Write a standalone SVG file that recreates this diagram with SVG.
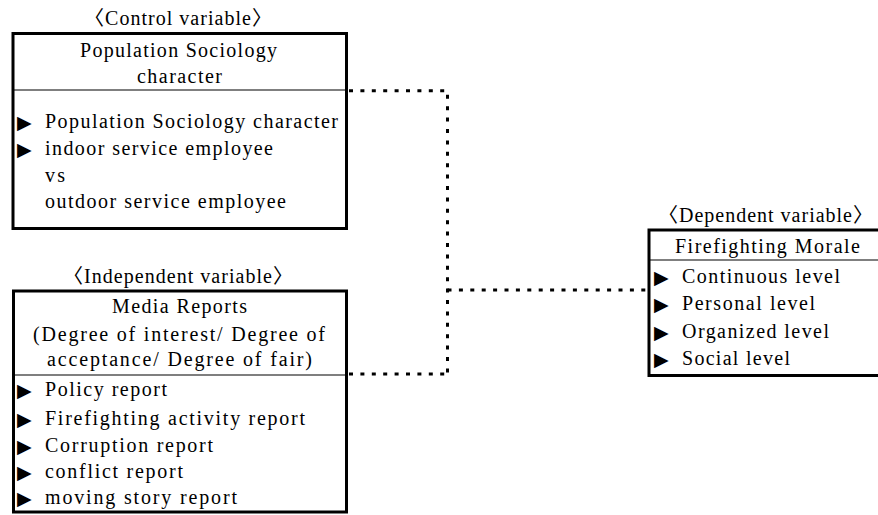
<svg xmlns="http://www.w3.org/2000/svg" width="878" height="515" viewBox="0 0 878 515">
<style>
.t{font-family:"Liberation Serif","Noto Sans CJK KR",serif;font-size:20px;fill:#000}
.b{font-family:"DejaVu Sans",sans-serif;font-size:19px;fill:#000}
.box{fill:#fff;stroke:#000;stroke-width:3}
.div{stroke:#000;stroke-width:1.2;fill:none}
.con{stroke:#000;stroke-width:3;fill:none;stroke-dasharray:4 7.4}
</style>
<rect width="878" height="515" fill="#fff"/>
<g id="connectors">
<path class="con" d="M349 90.7H447.5V374"/>
<path class="con" d="M349 374H447.5"/>
<path class="con" d="M447.5 290H646"/>
</g>
<g id="control">
<text class="t" x="84" y="25" textLength="188" lengthAdjust="spacing">〈Control variable〉</text>
<rect class="box" x="13" y="33.5" width="333.5" height="195"/>
<line class="div" x1="13" y1="90" x2="346.5" y2="90"/>
<text class="t" x="80" y="57" textLength="197" lengthAdjust="spacing">Population Sociology</text>
<text class="t" x="137" y="83" textLength="85" lengthAdjust="spacing">character</text>
<text class="b" x="17" y="129">▶</text>
<text class="t" x="45" y="128" textLength="293" lengthAdjust="spacing">Population Sociology character</text>
<text class="b" x="17" y="156">▶</text>
<text class="t" x="45" y="155" textLength="228" lengthAdjust="spacing">indoor service employee</text>
<text class="t" x="45" y="182" textLength="20" lengthAdjust="spacing">vs</text>
<text class="t" x="45" y="208" textLength="241" lengthAdjust="spacing">outdoor service employee</text>
</g>
<g id="independent">
<text class="t" x="63" y="283" textLength="230" lengthAdjust="spacing">〈Independent variable〉</text>
<rect class="box" x="13.5" y="291" width="333" height="221"/>
<line class="div" x1="13.5" y1="375" x2="346.5" y2="375"/>
<text class="t" x="112" y="313" textLength="135" lengthAdjust="spacing">Media Reports</text>
<text class="t" x="33" y="341" textLength="292" lengthAdjust="spacing">(Degree of interest/ Degree of</text>
<text class="t" x="47" y="366" textLength="265" lengthAdjust="spacing">acceptance/ Degree of fair)</text>
<text class="b" x="17" y="397">▶</text>
<text class="t" x="45" y="396" textLength="122" lengthAdjust="spacing">Policy report</text>
<text class="b" x="17" y="426">▶</text>
<text class="t" x="45" y="425" textLength="260" lengthAdjust="spacing">Firefighting activity report</text>
<text class="b" x="17" y="453">▶</text>
<text class="t" x="45" y="452" textLength="168" lengthAdjust="spacing">Corruption report</text>
<text class="b" x="17" y="479">▶</text>
<text class="t" x="45" y="478" textLength="138" lengthAdjust="spacing">conflict report</text>
<text class="b" x="17" y="505">▶</text>
<text class="t" x="45" y="504" textLength="192" lengthAdjust="spacing">moving story report</text>
</g>
<g id="dependent">
<text class="t" x="658" y="222" textLength="215" lengthAdjust="spacing">〈Dependent variable〉</text>
<rect class="box" x="649" y="230" width="240" height="145.5"/>
<line class="div" x1="649" y1="260" x2="878" y2="260"/>
<text class="t" x="675" y="253" textLength="185" lengthAdjust="spacing">Firefighting Morale</text>
<text class="b" x="654" y="284">▶</text>
<text class="t" x="682" y="283" textLength="158" lengthAdjust="spacing">Continuous level</text>
<text class="b" x="654" y="311">▶</text>
<text class="t" x="682" y="310" textLength="133" lengthAdjust="spacing">Personal level</text>
<text class="b" x="654" y="339">▶</text>
<text class="t" x="682" y="338" textLength="147" lengthAdjust="spacing">Organized level</text>
<text class="b" x="654" y="366">▶</text>
<text class="t" x="682" y="365" textLength="108" lengthAdjust="spacing">Social level</text>
</g>
</svg>
